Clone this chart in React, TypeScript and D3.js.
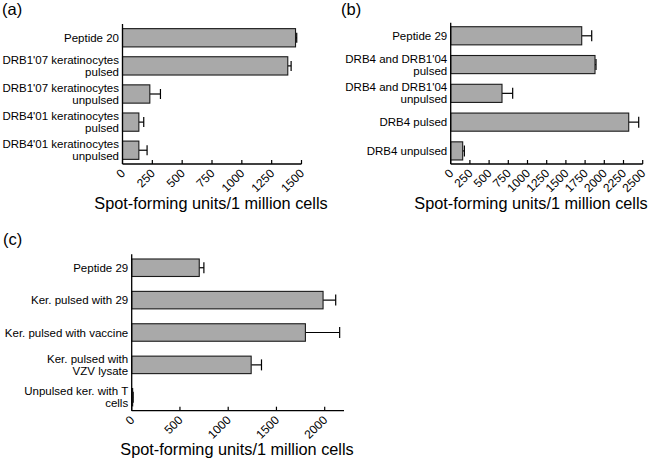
import React from "react";
import * as d3 from "d3";

const catsA: string[][] = [
  ["Peptide 20"],
  ["DRB1'07 keratinocytes", "pulsed"],
  ["DRB1'07 keratinocytes", "unpulsed"],
  ["DRB4'01 keratinocytes", "pulsed"],
  ["DRB4'01 keratinocytes", "unpulsed"],
];
const valuesA = [1450, 1385, 229, 137, 137];
const errorsA = [10, 28, 89, 41, 69];
const ticksA = [0, 250, 500, 750, 1000, 1250, 1500];

const catsB: string[][] = [
  ["Peptide 29"],
  ["DRB4 and DRB1'04", "pulsed"],
  ["DRB4 and DRB1'04", "unpulsed"],
  ["DRB4 pulsed"],
  ["DRB4 unpulsed"],
];
const valuesB = [1706, 1879, 668, 2318, 156];
const errorsB = [130, 13, 139, 130, 22];
const ticksB = [0, 250, 500, 750, 1000, 1250, 1500, 1750, 2000, 2250, 2500];

const catsC: string[][] = [
  ["Peptide 29"],
  ["Ker. pulsed with 29"],
  ["Ker. pulsed with vaccine"],
  ["Ker. pulsed with", "VZV lysate"],
  ["Unpulsed ker. with T", "cells"],
];
const valuesC = [700, 1983, 1800, 1238, 10];
const errorsC = [48, 131, 355, 107, 5];
const ticksC = [0, 500, 1000, 1500, 2000];

const xTitle = "Spot-forming units/1 million cells";
const FONT = "'Liberation Sans', Arial, Helvetica, sans-serif";

type PanelProps = {
  tag: string;
  tagX: number;
  tagY: number;
  cats: string[][];
  values: number[];
  errors: number[];
  ticks: number[];
  domainMax: number;
  x0: number;
  x1: number;
  yTop: number;
  yBottom: number;
  padInner: number;
  padOuter: number;
  capH: number;
  titleX: number;
  titleY: number;
};

function Panel(p: PanelProps) {
  const x = d3.scaleLinear().domain([0, p.domainMax]).range([p.x0, p.x1]);
  const idx = p.cats.map((_, i) => String(i));
  const y = d3
    .scaleBand<string>()
    .domain(idx)
    .range([p.yTop, p.yBottom])
    .paddingInner(p.padInner)
    .paddingOuter(p.padOuter);
  const bw = y.bandwidth();
  const lineH = 12;
  return (
    <g>
      <text x={p.tagX} y={p.tagY} fontSize={16.5} fontFamily={FONT}>
        {p.tag}
      </text>
      {p.values.map((v, i) => {
        const yy = y(String(i)) as number;
        const cy = yy + bw / 2;
        const ex = x(v + p.errors[i]);
        return (
          <g key={i}>
            <line x1={x(v)} x2={ex} y1={cy} y2={cy} stroke="#000" strokeWidth={1.2} />
            <line x1={ex} x2={ex} y1={cy - p.capH / 2} y2={cy + p.capH / 2} stroke="#000" strokeWidth={1.2} />
            <rect
              x={x(0)}
              y={yy}
              width={Math.max(x(v) - x(0), 0)}
              height={bw}
              fill="#a9a9a9"
              stroke="#1a1a1a"
              strokeWidth={1.1}
            />
          </g>
        );
      })}
      {p.cats.map((lines, i) => {
        const cy = (y(String(i)) as number) + bw / 2;
        const first = cy - ((lines.length - 1) * lineH) / 2 + 4;
        return (
          <text
            key={i}
            textAnchor="end"
            fontSize={11.5}
            fontFamily={FONT}
            fill="#000"
          >
            {lines.map((l, j) => (
              <tspan key={j} x={p.x0 - 3.5} y={first + j * lineH}>
                {l}
              </tspan>
            ))}
          </text>
        );
      })}
      <line x1={p.x0} x2={p.x0} y1={p.yTop} y2={p.yBottom} stroke="#000" strokeWidth={1.3} />
      <line x1={p.x0} x2={p.x1} y1={p.yBottom} y2={p.yBottom} stroke="#000" strokeWidth={1.3} />
      {p.ticks.map((t) => (
        <g key={t}>
          <line x1={x(t)} x2={x(t)} y1={p.yBottom} y2={p.yBottom - 4} stroke="#000" strokeWidth={1.2} />
          <text
            transform={`translate(${x(t) + 3.5},${p.yBottom + 10}) rotate(-45)`}
            textAnchor="end"
            fontSize={12}
            fontFamily={FONT}
          >
            {t}
          </text>
        </g>
      ))}
      <text x={p.titleX} y={p.titleY} textAnchor="middle" fontSize={16.3} fontFamily={FONT}>
        {xTitle}
      </text>
    </g>
  );
}

export default function App() {
  return (
    <svg
      width={653}
      height={463}
      style={{ position: "absolute", left: 0, top: 0, background: "#fff" }}
    >
      <rect width={653} height={463} fill="#fff" />
      <Panel
        tag="(a)"
        tagX={2}
        tagY={15}
        cats={catsA}
        values={valuesA}
        errors={errorsA}
        ticks={ticksA}
        domainMax={1500}
        x0={122.5}
        x1={301.5}
        yTop={24}
        yBottom={164}
        padInner={0.35}
        padOuter={0.165}
        capH={10}
        titleX={211}
        titleY={209}
      />
      <Panel
        tag="(b)"
        tagX={341}
        tagY={15}
        cats={catsB}
        values={valuesB}
        errors={errorsB}
        ticks={ticksB}
        domainMax={2500}
        x0={450.7}
        x1={642.7}
        yTop={22.7}
        yBottom={164}
        padInner={0.37}
        padOuter={0.14}
        capH={11}
        titleX={531}
        titleY={209}
      />
      <Panel
        tag="(c)"
        tagX={3}
        tagY={245}
        cats={catsC}
        values={valuesC}
        errors={errorsC}
        ticks={ticksC}
        domainMax={2200}
        x0={131.7}
        x1={344}
        yTop={254.3}
        yBottom={410.7}
        padInner={0.46}
        padOuter={0.145}
        capH={11}
        titleX={237}
        titleY={455}
      />
    </svg>
  );
}
